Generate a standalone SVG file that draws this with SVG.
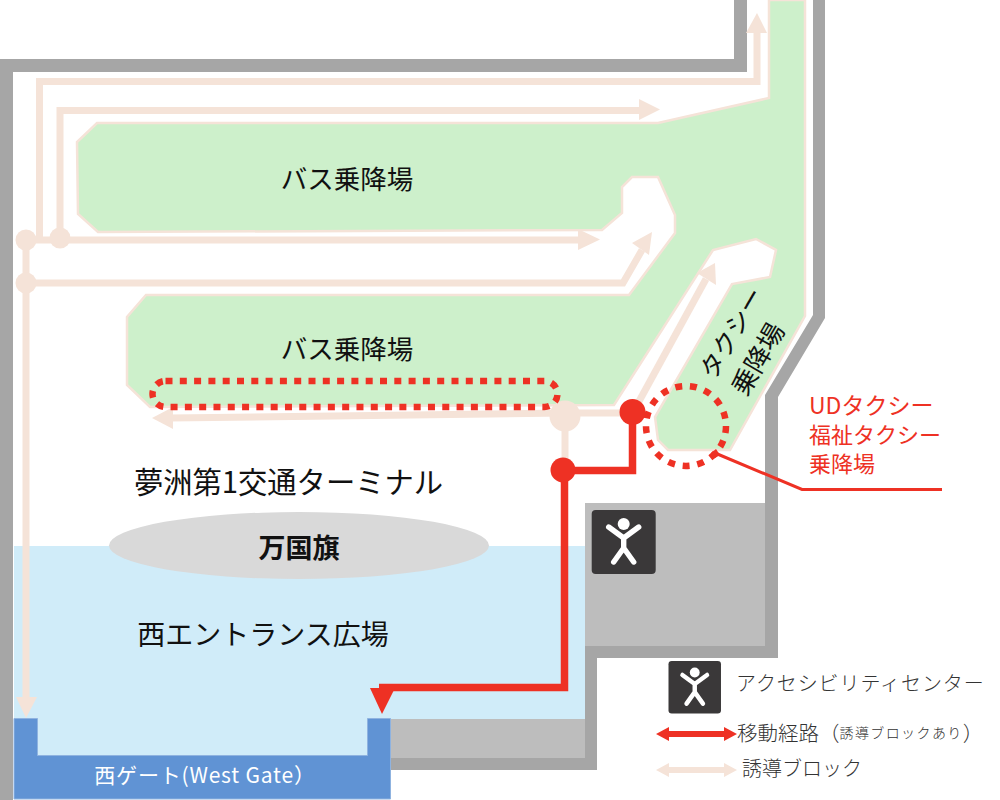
<svg xmlns="http://www.w3.org/2000/svg" width="1000" height="800" viewBox="0 0 1000 800">
<style>
text{font-family:"Noto Sans CJK JP","Noto Sans",sans-serif;fill:#111;text-anchor:middle;dominant-baseline:central}
.lg{text-anchor:start;fill:#333;font-weight:300}
.red{text-anchor:start;fill:#ee3124}
.wall{fill:#a6a6a6}
.room{fill:#bdbdbd}
.g{fill:none;stroke:#f5e3d8;stroke-width:7}
.gf{fill:#f5e3d8}
.r{fill:none;stroke:#ee3124;stroke-width:7.5}
.rf{fill:#ee3124}
.dot{fill:none;stroke:#ee3124;stroke-width:6.5}
</style>
<defs>
<g id="icon"><rect x="0" y="0" width="64" height="64" rx="4" fill="#3a3839"/>
<circle cx="32" cy="14" r="6" fill="#fff"/>
<path d="M17 17L32 28L47 17M32 28V38M32 38L22 52M32 38L42 52" fill="none" stroke="#fff" stroke-width="5.400" stroke-linecap="round" stroke-linejoin="round"/></g>
</defs>
<rect width="1000" height="800" fill="#fff"/>
<g id="walls">
<path class="wall" d="M0 59H734V0H747V72H13V800H0Z"/>
<path class="wall" d="M813 0H825V318L778 397V658H597V770H390V758H585V646H765V395L813 315Z"/>
<path class="room" d="M585 503H765V646H585Z"/>
<path class="room" d="M385 719H585V758H385Z"/>
</g>
<g id="plaza"><path fill="#d0ecf9" d="M14 546H585V719H390V758H14Z"/></g>
<g id="green-area"><path fill="#cdf0cb" stroke="#f5e3d8" stroke-width="2.5" d="M97 123H658L769 98V0H805V316L730 450H668L658 440L655 417L732 284L770 277L776 250L756 239L713 250L614 405L150 407L127 385V317L146 295H629L675 233V215L658 177H632L622 187V213L602 230L98 232L78 214L77 142Z"/></g>
<g id="connectors">
<path class="g" d="M39.500 240V81.500H757V30"/><path class="gf" d="M757 13L767 33H746Z"/>
<path class="g" d="M60 238V110.500H642"/><path class="gf" d="M660 109.500L639 99V120Z"/>
<path class="g" d="M26 240H580"/><path class="gf" d="M600 239.500L578 229V250Z"/>
<path class="g" d="M26 283H623L642 250"/><path class="gf" d="M652 232L632 243L649 255Z"/>
<path class="g" d="M26 240V700"/><path class="gf" d="M26 718L16 697H37Z"/>
<path class="g" d="M632 413H565L170 418"/><path class="gf" d="M152 418L173 407V429Z"/>
<path class="g" d="M637 405L706 279"/><path class="gf" d="M715 263L697 273L716 285Z"/>
<path class="g" stroke-width="8" d="M565 415V470"/>
<circle class="gf" cx="26" cy="240" r="10.500"/>
<circle class="gf" cx="60" cy="238" r="10.500"/>
<circle class="gf" cx="26" cy="283" r="10.500"/>
<circle class="gf" cx="565" cy="416" r="15.500"/>
<rect class="dot" x="152.500" y="381" width="405" height="26" rx="13" stroke-dasharray="7 7.300"/>
<circle class="dot" cx="686" cy="426" r="40" stroke-dasharray="7 7.780"/>
<path class="r" d="M632.500 413V470.500H564.500V687.500H379"/>
<path class="rf" d="M382 714L370 688H395Z"/>
<circle class="rf" cx="632.500" cy="412" r="13"/>
<circle class="rf" cx="563" cy="470" r="12.500"/>
<path fill="none" stroke="#ee3124" stroke-width="3" d="M715 453L802 489.500H942"/>
<path class="rf" d="M711 453L716 449L720 455L715 458Z"/>
</g>
<g id="bus-1"><text x="347" y="177" font-size="26.500">バス乗降場</text></g>
<g id="bus-2"><text x="347" y="347.500" font-size="26.500">バス乗降場</text></g>
<g id="taxi"><text transform="translate(730 332) rotate(-60)" font-size="25">タクシー</text><text transform="translate(756 358) rotate(-60)" font-size="26">乗降場</text></g>
<g id="ud-taxi"><text class="red" x="809" y="404" font-size="23">UDタクシー</text><text class="red" x="809" y="432.500" font-size="22">福祉タクシー</text><text class="red" x="809" y="461.500" font-size="22">乗降場</text></g>
<g id="terminal"><text x="288.500" y="480" font-size="29.300">夢洲第1交通ターミナル</text></g>
<g id="flag"><ellipse cx="299" cy="545.500" rx="190" ry="33.500" fill="#d9d9d9"/><text x="299" y="546" font-size="27" font-weight="700">万国旗</text></g>
<g id="plaza-label"><text x="263" y="632.500" font-size="28">西エントランス広場</text></g>
<g id="gate"><path fill="#6093d4" stroke="#8fb3e0" stroke-width="1" d="M14 718.500H37.500V755.500H367.500V718.500H390.500V799H14Z"/><text x="205" y="774" font-size="21" letter-spacing="0.800" style="fill:#fff">西ゲート(West Gate）</text></g>
<g id="access-center"><use href="#icon" transform="translate(591.700 510)"/></g>
<g id="legend">
<use href="#icon" transform="translate(668.500 661) scale(0.82)"/>
<text class="lg" x="736" y="682" font-size="20" letter-spacing="0.900">アクセシビリティセンター</text>
<path class="rf" d="M656 734L669 727V731H724V727L737 734L724 741V737H669V741Z"/>
<text class="lg" x="737" y="732" font-size="20.500">移動経路（<tspan font-size="14" letter-spacing="1.400">誘導ブロックあり</tspan>）</text>
<path class="gf" d="M656 770L669 763V767H724V763L737 770L724 777V773H669V777Z"/>
<text class="lg" x="742" y="767" font-size="20">誘導ブロック</text>
</g>
</svg>
